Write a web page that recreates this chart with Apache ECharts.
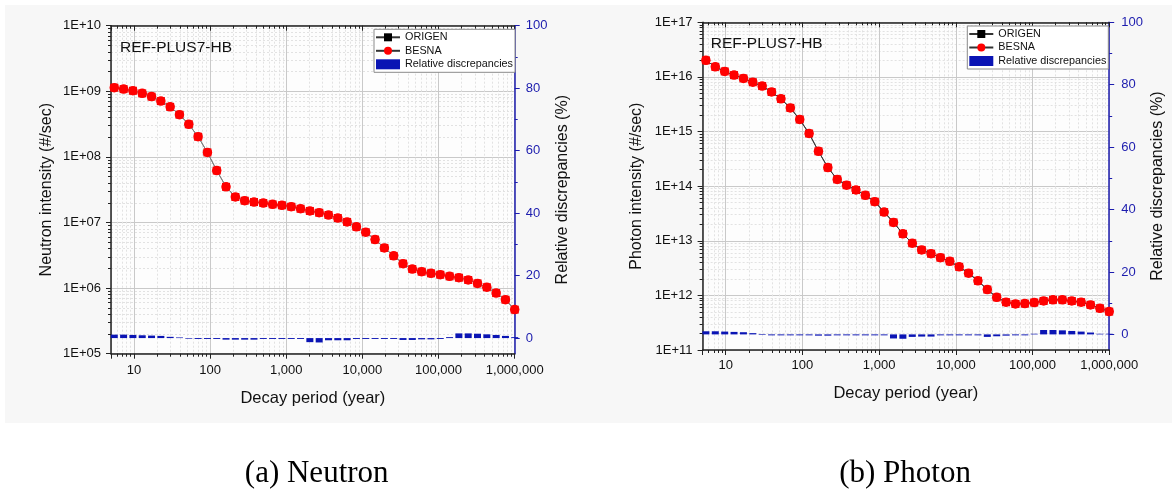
<!DOCTYPE html>
<html><head><meta charset="utf-8">
<script src="https://cdn.jsdelivr.net/npm/echarts@6/dist/echarts.min.js"></script>
<style>html,body{margin:0;padding:0;background:#fff}#c{width:1172px;height:492px}</style>
</head><body><div id="c"></div>
<script>
// ---- data ----
const decayYears = [5.52, 7.32, 9.70, 12.85, 17.03, 22.57, 29.91, 39.63, 52.53, 69.6, 92.3, 122.3, 162.0, 214.7, 284.6, 377.1, 499.7, 662.2, 877.5, 1163, 1542, 2043, 2708, 3588, 4755, 6301, 8350, 11070, 14670, 19440, 25760, 34140, 45240, 59960, 79470, 105300, 139600, 185000, 245200, 324900, 430600, 570600, 756200, 1000000];

const neutronOrigen = [1.135e9, 1.08e9, 1.02e9, 9.3e8, 8.3e8, 7.1e8, 5.8e8, 4.4e8, 3.14e8, 2.03e8, 1.17e8, 6.2e7, 3.5e7, 2.45e7, 2.15e7, 2.05e7, 1.98e7, 1.89e7, 1.83e7, 1.74e7, 1.62e7, 1.50e7, 1.41e7, 1.30e7, 1.17e7, 1.02e7, 8.6e6, 7.1e6, 5.5e6, 4.1e6, 3.1e6, 2.36e6, 1.95e6, 1.78e6, 1.68e6, 1.60e6, 1.51e6, 1.44e6, 1.33e6, 1.18e6, 1.03e6, 8.4e5, 6.65e5, 4.7e5];
const neutronBesna = [1.135e9, 1.08e9, 1.02e9, 9.3e8, 8.3e8, 7.1e8, 5.8e8, 4.4e8, 3.14e8, 2.03e8, 1.17e8, 6.2e7, 3.5e7, 2.45e7, 2.15e7, 2.05e7, 1.98e7, 1.89e7, 1.83e7, 1.74e7, 1.62e7, 1.50e7, 1.41e7, 1.30e7, 1.17e7, 1.02e7, 8.6e6, 7.1e6, 5.5e6, 4.1e6, 3.1e6, 2.36e6, 1.95e6, 1.78e6, 1.68e6, 1.60e6, 1.51e6, 1.44e6, 1.33e6, 1.18e6, 1.03e6, 8.4e5, 6.65e5, 4.7e5];
const neutronDiff = [1.1, 1.1, 1.0, 0.9, 0.8, 0.7, 0.4, 0.2, -0.2, -0.3, -0.3, -0.3, -0.5, -0.5, -0.5, -0.5, -0.3, -0.3, -0.3, -0.3, -0.3, -1.3, -1.4, -0.7, -0.7, -0.7, -0.3, -0.3, -0.3, -0.3, -0.3, -0.6, -0.6, -0.4, -0.4, -0.3, 0.3, 1.5, 1.5, 1.4, 1.2, 1.0, 0.7, 0.3];

const photonOrigen = [2.01e16, 1.53e16, 1.26e16, 1.08e16, 9.4e15, 8.0e15, 6.8e15, 5.3e15, 3.97e15, 2.71e15, 1.66e15, 9.2e14, 4.35e14, 2.19e14, 1.33e14, 1.04e14, 8.5e13, 6.8e13, 5.2e13, 3.35e13, 2.17e13, 1.34e13, 9.0e12, 6.8e12, 5.8e12, 4.9e12, 4.2e12, 3.33e12, 2.55e12, 1.85e12, 1.28e12, 9.2e11, 7.5e11, 6.98e11, 7.07e11, 7.4e11, 7.9e11, 8.3e11, 8.3e11, 7.9e11, 7.5e11, 6.7e11, 5.8e11, 5.05e11];
const photonBesna = [2.01e16, 1.53e16, 1.26e16, 1.08e16, 9.4e15, 8.0e15, 6.8e15, 5.3e15, 3.97e15, 2.71e15, 1.66e15, 9.2e14, 4.35e14, 2.19e14, 1.33e14, 1.04e14, 8.5e13, 6.8e13, 5.2e13, 3.35e13, 2.17e13, 1.34e13, 9.0e12, 6.8e12, 5.8e12, 4.9e12, 4.2e12, 3.33e12, 2.55e12, 1.85e12, 1.28e12, 9.2e11, 7.5e11, 6.98e11, 7.07e11, 7.4e11, 7.9e11, 8.3e11, 8.3e11, 7.9e11, 7.5e11, 6.7e11, 5.8e11, 5.05e11];
const photonDiff = [1.0, 1.0, 0.9, 0.8, 0.7, 0.4, -0.2, -0.3, -0.3, -0.3, -0.3, -0.3, -0.4, -0.4, -0.3, -0.3, -0.3, -0.3, -0.3, -0.3, -1.3, -1.4, -0.8, -0.7, -0.7, -0.3, -0.3, -0.3, -0.3, -0.3, -0.8, -0.6, -0.4, -0.3, -0.3, 0.2, 1.4, 1.4, 1.3, 1.1, 0.9, 0.6, 0.2, 0.2];

const xTickLabels = ['10', '100', '1,000', '10,000', '100,000', '1,000,000'];      // 1E1..1E6
const neutronYLabels = ['1E+05', '1E+06', '1E+07', '1E+08', '1E+09', '1E+10'];      // 1E5..1E10
const photonYLabels = ['1E+11', '1E+12', '1E+13', '1E+14', '1E+15', '1E+16', '1E+17']; // 1E11..1E17
const discTicks = [0, 20, 40, 60, 80, 100];
const discMinorTicks = [10, 30, 50, 70, 90];
const legendNames = ['ORIGEN', 'BESNA', 'Relative discrepancies'];
const panelLabel = 'REF-PLUS7-HB';

// ---- chart ----
const FONT = "'Liberation Sans', Arial, sans-serif";
const AX = '#222';
const BLUE = '#1c1cae';
const BAR = '#0a14b4';

function pair(xs, ys) { return xs.map((x, i) => [x, ys[i]]); }
function decadeLabel(labels, firstExp) {
  return function (v) {
    const l = Math.log10(v), e = Math.round(l);
    if (Math.abs(l - e) > 1e-6) return '';
    return labels[e - firstExp] || '';
  };
}

const G = [
  { left: 111, top: 25.7, width: 403.7, height: 328, ymin: 1e5, ymax: 1e10, ysplit: 5, ylabels: neutronYLabels, yfirst: 5,
    yname: 'Neutron intensity (#/sec)', ynameGap: 56, rnameGap: 40, xnameGap: 36, xlabelMargin: 10, rlabelMargin: 11,
    origen: neutronOrigen, besna: neutronBesna, diff: neutronDiff, lineColor: '#7d7d7d' },
  { left: 702.6, top: 22.3, width: 406.6, height: 327.7, ymin: 1e11, ymax: 1e17, ysplit: 6, ylabels: photonYLabels, yfirst: 11,
    yname: 'Photon intensity (#/sec)', ynameGap: 58, rnameGap: 40, xnameGap: 35, xlabelMargin: 9, rlabelMargin: 12,
    origen: photonOrigen, besna: photonBesna, diff: photonDiff, lineColor: '#3a3a3a' }
];

const grid = [], xAxis = [], yAxis = [], series = [];
G.forEach((g, gi) => {
  grid.push({ left: g.left, top: g.top, width: g.width, height: g.height, show: true, backgroundColor: '#fdfdfd', borderWidth: 0 });
  const xb = xAxis.length;
  xAxis.push({
    type: 'log', logBase: 10, gridIndex: gi, min: 5, max: 1e6, splitNumber: 5, position: 'bottom',
    name: 'Decay period (year)', nameLocation: 'middle', nameGap: g.xnameGap,
    nameTextStyle: { fontSize: 16.5, color: '#111', fontFamily: FONT },
    axisLine: { show: true, onZero: false, lineStyle: { color: AX, width: 1.5 } },
    axisTick: { show: true, length: 5, lineStyle: { color: AX, width: 1 } },
    minorTick: { show: true, splitNumber: 9, length: 3, lineStyle: { color: AX, width: 1 } },
    axisLabel: { margin: g.xlabelMargin, fontSize: 13, color: '#111', fontFamily: FONT, formatter: decadeLabel(xTickLabels, 1) },
    splitLine: { show: true, lineStyle: { color: '#c9c9c9', width: 1 } },
    minorSplitLine: { show: true, lineStyle: { color: '#e2e2e2', width: 1, type: [2, 2] } }
  });
  xAxis.push({
    type: 'log', logBase: 10, gridIndex: gi, min: 5, max: 1e6, splitNumber: 5, position: 'top',
    axisLine: { show: true, onZero: false, lineStyle: { color: AX, width: 1.5 } },
    axisTick: { show: true, inside: true, length: 5, lineStyle: { color: AX, width: 1 } },
    minorTick: { show: true, splitNumber: 9, length: 3, lineStyle: { color: AX, width: 1 } },
    axisLabel: { show: false }, splitLine: { show: false }
  });
  const yl = yAxis.length;
  yAxis.push({
    type: 'log', logBase: 10, gridIndex: gi, min: g.ymin, max: g.ymax, splitNumber: g.ysplit, position: 'left',
    name: g.yname, nameLocation: 'middle', nameGap: g.ynameGap,
    nameTextStyle: { fontSize: 16, color: '#111', fontFamily: FONT },
    axisLine: { show: true, onZero: false, lineStyle: { color: AX, width: 1.5 } },
    axisTick: { show: true, length: 5, lineStyle: { color: AX, width: 1 } },
    minorTick: { show: true, splitNumber: 9, length: 3, lineStyle: { color: AX, width: 1 } },
    axisLabel: { margin: 10, fontSize: 13, color: '#111', fontFamily: FONT, formatter: decadeLabel(g.ylabels, g.yfirst) },
    splitLine: { show: true, lineStyle: { color: '#c9c9c9', width: 1 } },
    minorSplitLine: { show: true, lineStyle: { color: '#e2e2e2', width: 1, type: [2, 2] } }
  });
  const yr = yAxis.length;
  yAxis.push({
    type: 'value', gridIndex: gi, min: -5, max: 100, position: 'right',
    name: 'Relative discrepancies (%)', nameLocation: 'middle', nameGap: g.rnameGap,
    nameTextStyle: { fontSize: 16, color: '#111', fontFamily: FONT },
    axisLine: { show: true, onZero: false, lineStyle: { color: BLUE, width: 1.5 } },
    axisTick: { show: true, length: 5, customValues: discTicks, lineStyle: { color: BLUE, width: 1 } },
    axisLabel: { margin: g.rlabelMargin, fontSize: 13, color: BLUE, fontFamily: FONT, customValues: discTicks },
    splitLine: { show: false }
  });
  yAxis.push({
    type: 'value', gridIndex: gi, min: -5, max: 100, position: 'right',
    axisLine: { show: false },
    axisTick: { show: true, length: 3, customValues: discMinorTicks, lineStyle: { color: BLUE, width: 1 } },
    axisLabel: { show: false }, splitLine: { show: false }
  });
  series.push({
    name: 'Relative discrepancies', type: 'bar', xAxisIndex: xb, yAxisIndex: yr,
    data: pair(decayYears, g.diff), barWidth: 7, itemStyle: { color: BAR }, z: 2
  });
  series.push({
    name: 'ORIGEN', type: 'line', xAxisIndex: xb, yAxisIndex: yl, data: pair(decayYears, g.origen),
    symbol: 'rect', symbolSize: 8, itemStyle: { color: '#e80000' }, lineStyle: { color: g.lineColor, width: 1 }, z: 3
  });
  series.push({
    name: 'BESNA', type: 'line', xAxisIndex: xb, yAxisIndex: yl, data: pair(decayYears, g.besna),
    symbol: 'circle', symbolSize: 9.5, itemStyle: { color: '#ff0000' }, lineStyle: { color: g.lineColor, width: 1 }, z: 4
  });
});

function mkLegend(left, top) {
  return {
    left: left, top: top, orient: 'vertical', selectedMode: false,
    backgroundColor: '#fff', borderColor: '#8a8a8a', borderWidth: 1, padding: [2, 2, 2, 1],
    itemGap: 1.5, itemWidth: 24, itemHeight: 10, itemTextGap: 3,
    textStyle: { fontSize: 10.8, color: '#111', fontFamily: FONT, lineHeight: 12 },
    data: [
      { name: legendNames[0], itemStyle: { color: '#000' }, lineStyle: { color: '#333' } },
      { name: legendNames[1], lineStyle: { color: '#333' } },
      { name: legendNames[2], icon: 'rect' }
    ]
  };
}

const option = {
  animation: false,
  backgroundColor: '#ffffff',
  grid, xAxis, yAxis, series,
  legend: [mkLegend(374, 29.3), mkLegend(967.3, 26)],
  graphic: [
    { type: 'rect', silent: true, z: -10, shape: { x: 5, y: 5, width: 1167, height: 418 }, style: { fill: '#f7f7f7' } },
    { type: 'text', silent: true, z: 10, x: 120, y: 47.7, style: { text: panelLabel, font: '15.5px ' + FONT, fill: '#111', textAlign: 'left', textVerticalAlign: 'middle' } },
    { type: 'text', silent: true, z: 10, x: 710.7, y: 43.3, style: { text: panelLabel, font: '15.5px ' + FONT, fill: '#111', textAlign: 'left', textVerticalAlign: 'middle' } },
    { type: 'text', silent: true, z: 10, x: 316.7, y: 474, style: { text: '(a) Neutron', font: "31px 'Liberation Serif', 'Times New Roman', serif", fill: '#000', textAlign: 'center', textVerticalAlign: 'middle' } },
    { type: 'text', silent: true, z: 10, x: 905, y: 474, style: { text: '(b) Photon', font: "31px 'Liberation Serif', 'Times New Roman', serif", fill: '#000', textAlign: 'center', textVerticalAlign: 'middle' } }
  ]
};

const chart = echarts.init(document.getElementById('c'), null, { renderer: 'canvas' });
chart.setOption(option);
</script>
</body></html>
